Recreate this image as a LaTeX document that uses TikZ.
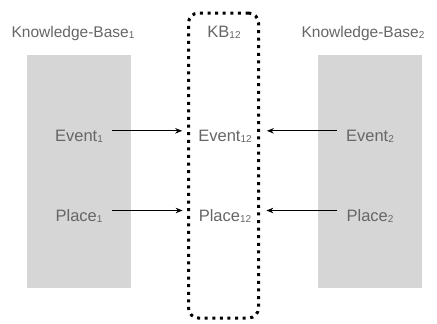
\documentclass[tikz,border=0pt]{standalone}
\usepackage{fontspec}
\setmainfont{Liberation Sans}
\usetikzlibrary{arrows.meta}
\definecolor{kbgray}{HTML}{D6D6D6}
\definecolor{txtgray}{HTML}{666666}
\newcommand{\lsub}[1]{\raisebox{-0.12em}{\fontsize{10}{10}\selectfont #1}}
\tikzset{
  lbl/.style={font=\fontsize{16.5}{18}\selectfont, text=txtgray, inner sep=0pt, anchor=base},
  ttl/.style={lbl, font=\fontsize{15.5}{17}\selectfont},
  kbrect/.style={fill=kbgray, draw=none, inner sep=0pt},
  dotbox/.style={draw=black, line width=3pt, dash pattern=on 3pt off 4.6pt, rounded corners=10pt, inner sep=0pt},
  arr/.style={-{Stealth[length=7pt,width=5.5pt]}, line width=0.9pt, black}
}
\begin{document}
\begin{tikzpicture}[x=1pt,y=-1pt]
\useasboundingbox (0,0) rectangle (437,324);
% gray knowledge-base panels
\node[kbrect, minimum width=104pt, minimum height=233pt] (kb1) at (79,171.5) {};
\node[kbrect, minimum width=104pt, minimum height=233pt] (kb2) at (370,171.5) {};
% dotted merged box
\node[dotbox, minimum width=70pt, minimum height=305pt] (kb12) at (223.5,165.5) {};
% titles
\node[ttl] (t1) at (73,37) {Knowledge-Base\lsub{1}};
\node[lbl] (t12) at (224,37) {KB\lsub{12}};
\node[ttl] (t2) at (363,37) {Knowledge-Base\lsub{2}};
% items
\node[lbl] (e1) at (79,141) {Event\lsub{1}};
\node[lbl] (e12) at (225,141) {Event\lsub{12}};
\node[lbl] (e2) at (370,141) {Event\lsub{2}};
\node[lbl] (p1) at (79,221) {Place\lsub{1}};
\node[lbl] (p12) at (225,221) {Place\lsub{12}};
\node[lbl] (p2) at (370,221) {Place\lsub{2}};
% arrows
\draw[arr] ([xshift=9pt,yshift=5.5pt]e1.east) -- ([xshift=-16pt,yshift=5.5pt]e12.west);
\draw[arr] ([xshift=-9pt,yshift=5.5pt]e2.west) -- ([xshift=15pt,yshift=5.5pt]e12.east);
\draw[arr] ([xshift=9pt,yshift=5.5pt]p1.east) -- ([xshift=-16pt,yshift=5.5pt]p12.west);
\draw[arr] ([xshift=-9pt,yshift=5.5pt]p2.west) -- ([xshift=15pt,yshift=5.5pt]p12.east);
\end{tikzpicture}
\end{document}
